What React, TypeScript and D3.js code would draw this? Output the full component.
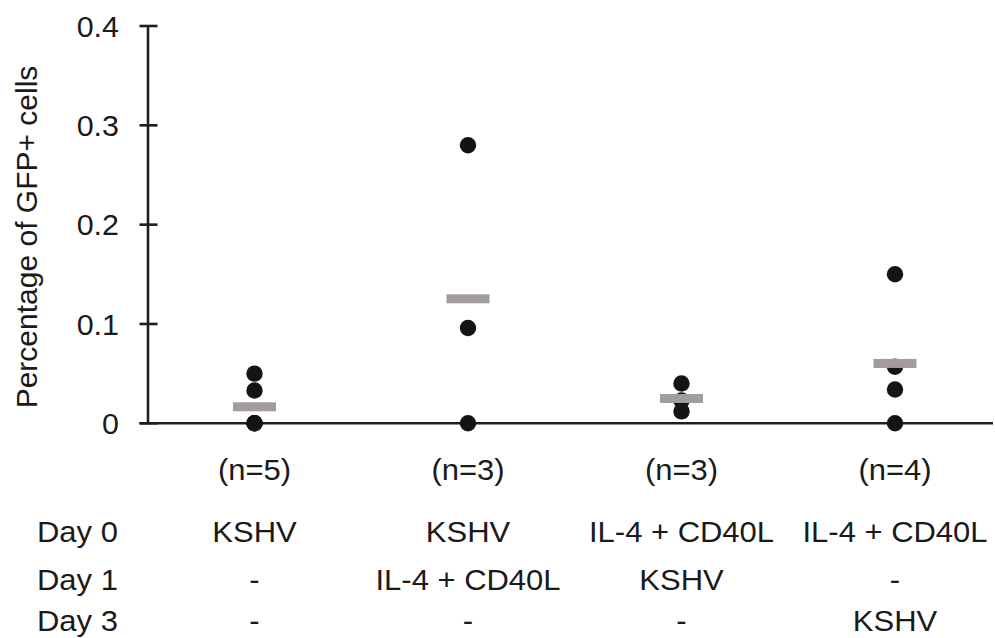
import React from "react";
import * as d3 from "d3";

// Treatment groups and their per-sample GFP+ percentages
const groups = ["A", "B", "C", "D"];
const groupN = ["(n=5)", "(n=3)", "(n=3)", "(n=4)"];
const valuesA = [0.05, 0.033, 0, 0, 0];
const valuesB = [0.28, 0.096, 0];
const valuesC = [0.04, 0.023, 0.012];
const valuesD = [0.15, 0.057, 0.034, 0];
const groupValues = [valuesA, valuesB, valuesC, valuesD];

// Treatment schedule rows shown under the axis
const dayLabels = ["Day 0", "Day 1", "Day 3"];
const day0 = ["KSHV", "KSHV", "IL-4 + CD40L", "IL-4 + CD40L"];
const day1 = ["-", "IL-4 + CD40L", "KSHV", "-"];
const day3 = ["-", "-", "-", "KSHV"];
const schedule = [day0, day1, day3];

const yTicks = [0, 0.1, 0.2, 0.3, 0.4];
const yTickLabels = ["0", "0.1", "0.2", "0.3", "0.4"];
const yTitle = "Percentage of GFP+ cells";

const W = 995;
const H = 638;
const FONT = "'Liberation Sans', Arial, Helvetica, sans-serif";
const SX = 1.05; // slight horizontal stretch applied to labels
const FS = 29.5;

export default function App() {
  const y = d3.scaleLinear().domain([0, 0.4]).range([423.3, 26]);
  const x = d3.scalePoint<string>().domain(groups).range([254.5, 895]);
  const axisX = 148;
  const axisEnd = 993;
  const rowY = [542, 590, 631];

  return (
    <svg
      width={W}
      height={H}
      style={{ position: "absolute", left: 0, top: 0, background: "#fff" }}
      fontFamily={FONT}
    >
      {/* y axis */}
      <line x1={axisX} x2={axisX} y1={y(0.4)} y2={y(0)} stroke="#1e1e1e" strokeWidth={2.6} />
      {yTicks.map((t, i) => (
        <g key={t}>
          <line x1={axisX - 8.5} x2={axisX + 9.5} y1={y(t)} y2={y(t)} stroke="#1e1e1e" strokeWidth={2.6} />
          <text
            transform={`translate(${119},${y(t) + 10.7}) scale(${SX},1)`}
            textAnchor="end"
            fontSize={29}
            fill="#1a1a1a"
          >
            {yTickLabels[i]}
          </text>
        </g>
      ))}
      {/* x axis */}
      <line x1={axisX - 8.5} x2={axisEnd} y1={y(0)} y2={y(0)} stroke="#1e1e1e" strokeWidth={2.6} />

      {/* y title */}
      <text
        transform={`translate(37,${237}) rotate(-90)`}
        textAnchor="middle"
        fontSize={30}
        fill="#1a1a1a"
      >
        {yTitle}
      </text>

      {/* sample points */}
      {groupValues.map((vals, gi) =>
        vals.map((v, j) => (
          <circle key={`${gi}-${j}`} cx={x(groups[gi])} cy={y(v)} r={8.2} fill="#141414" />
        ))
      )}

      {/* group means */}
      {groupValues.map((vals, gi) => {
        const m = d3.mean(vals) as number;
        return (
          <rect
            key={`m-${gi}`}
            x={(x(groups[gi]) as number) - 21.5}
            y={y(m) - 4.5}
            width={43}
            height={9}
            fill="#a29c9c"
          />
        );
      })}

      {/* n labels */}
      {groupN.map((n, gi) => (
        <text
          key={n + gi}
          transform={`translate(${x(groups[gi])},${480}) scale(${SX},1)`}
          textAnchor="middle"
          fontSize={FS}
          fill="#1a1a1a"
        >
          {n}
        </text>
      ))}

      {/* schedule table */}
      {dayLabels.map((d, ri) => (
        <g key={d}>
          <text
            transform={`translate(37,${rowY[ri]}) scale(${SX},1)`}
            fontSize={FS}
            fill="#1a1a1a"
          >
            {d}
          </text>
          {schedule[ri].map((s, gi) => (
            <text
              key={gi}
              transform={`translate(${x(groups[gi])},${rowY[ri]}) scale(${SX},1)`}
              textAnchor="middle"
              fontSize={FS}
              fill="#1a1a1a"
            >
              {s}
            </text>
          ))}
        </g>
      ))}
    </svg>
  );
}
